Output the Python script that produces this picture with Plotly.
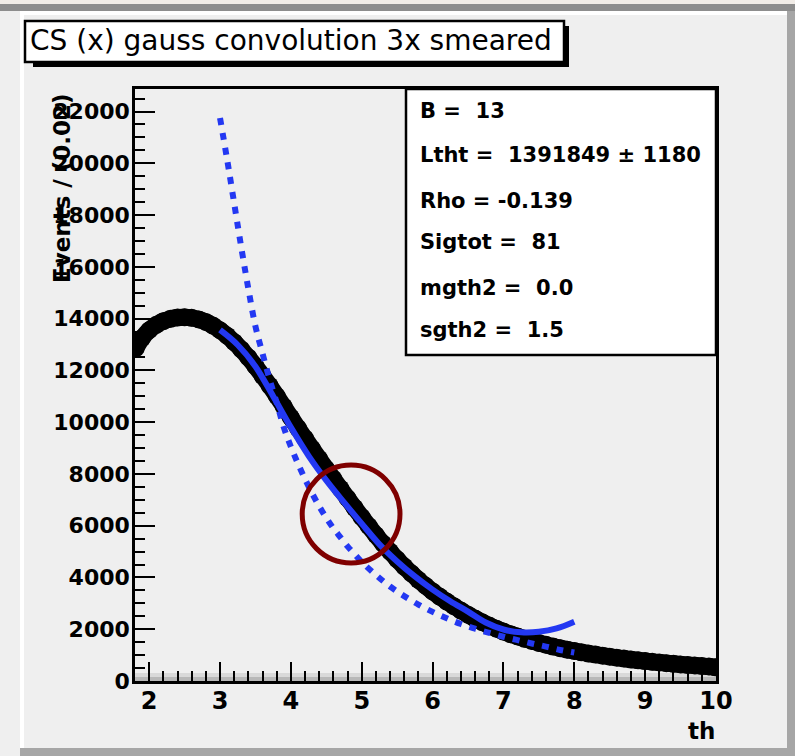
import plotly.graph_objects as go

# ---------------- data ----------------
th_x = [1.81, 1.9, 2.0, 2.1, 2.2, 2.3, 2.4, 2.5, 2.6, 2.7, 2.8, 2.9,
        3.0, 3.1, 3.2, 3.3, 3.4, 3.5, 3.6, 3.7, 3.8, 3.9,
        4.0, 4.1, 4.2, 4.3, 4.4, 4.5, 4.6, 4.7, 4.8, 4.9,
        5.0, 5.1, 5.2, 5.3, 5.4, 5.5, 5.6, 5.7, 5.8, 5.9,
        6.0, 6.1, 6.2, 6.3, 6.4, 6.5, 6.6, 6.7, 6.8, 6.9,
        7.0, 7.1, 7.2, 7.3, 7.4, 7.5, 7.6, 7.7, 7.8, 7.9,
        8.0, 8.1, 8.2, 8.3, 8.4, 8.5, 8.6, 8.7, 8.8, 8.9,
        9.0, 9.1, 9.2, 9.3, 9.4, 9.5, 9.6, 9.7, 9.8, 9.9, 9.99]
events = [12850, 13250, 13550, 13760, 13900, 13990, 14040, 14050, 14030, 13970, 13870, 13730,
          13550, 13340, 13090, 12810, 12500, 12160, 11790, 11410, 11010, 10600,
          10180, 9770, 9370, 8970, 8580, 8190, 7810, 7430, 7060, 6690,
          6330, 5980, 5640, 5310, 5000, 4700, 4420, 4160, 3910, 3680,
          3460, 3260, 3070, 2890, 2720, 2560, 2410, 2270, 2140, 2020,
          1910, 1810, 1720, 1630, 1550, 1470, 1400, 1330, 1270, 1210,
          1160, 1110, 1060, 1020, 980, 940, 900, 865, 830, 800,
          770, 740, 715, 690, 665, 640, 620, 600, 580, 560, 530]

fit_x = [3.0, 3.25, 3.5, 3.75, 4.0, 4.25, 4.5, 4.75, 5.0, 5.25, 5.5,
         5.75, 6.0, 6.25, 6.5, 6.75, 7.0, 7.25, 7.5, 7.75, 8.0]
fit_y = [13560, 12980, 12150, 11000, 9800, 8700, 7750, 6900, 6080, 5280, 4620,
         4040, 3530, 3080, 2680, 2260, 1990, 1880, 1900, 2030, 2290]

smear_x = [3.0, 3.1, 3.2, 3.3, 3.4, 3.5, 3.6, 3.7, 3.8, 3.9, 4.0, 4.1, 4.2, 4.3,
           4.4, 4.5, 4.6, 4.7, 4.8, 4.9, 5.0, 5.2, 5.4, 5.6, 5.8, 6.0, 6.2,
           6.4, 6.6, 6.8, 7.0, 7.2, 7.4, 7.6, 7.8, 8.0]
smear_y = [21750, 20150, 18450, 16750, 15150, 13700, 12650, 11650, 10750, 9800,
           9050, 8400, 7800, 7250, 6750, 6300, 5900, 5550, 5200, 4900, 4600,
           4100, 3650, 3280, 2950, 2670, 2420, 2200, 2020, 1860, 1710, 1580,
           1450, 1330, 1200, 1100]

x_ticks = [2, 3, 4, 5, 6, 7, 8, 9, 10]
y_ticks = [0, 2000, 4000, 6000, 8000, 10000, 12000, 14000, 16000, 18000, 20000, 22000]

title_text = "CS (x) gauss convolution 3x smeared"
stats_lines = ["B =\u00a0 13",
               "Ltht =\u00a0 1391849 ± 1180",
               "Rho = -0.139",
               "Sigtot =\u00a0 81",
               "mgth2 =\u00a0 0.0",
               "sgth2 =\u00a0 1.5"]

circle_center = (4.85, 6450)
circle_radius = (0.69, 1890)

# ---------------- layout geometry ----------------
W, H = 795, 756
L, R, T, B = 135, 79, 89, 75
PW = W - L - R
PH = H - T - B
X_RANGE = [1.8, 10.0]
Y_RANGE = [0, 22870]


def fx(px):
    return (px - L) / PW


def fy(py):
    return (H - B - py) / PH


BG = "#efefef"
FONT = "DejaVu Sans"
BLUE = "#2338f2"

fig = go.Figure()

# data band: markers joined by a thick line of the same points
fig.add_trace(go.Scatter(x=th_x, y=events, mode="lines",
                         line=dict(color="black", width=17, shape="spline"),
                         showlegend=False, hoverinfo="skip"))
fig.add_trace(go.Scatter(x=th_x, y=events, mode="markers",
                         marker=dict(color="black", size=18, line=dict(width=0)),
                         showlegend=False, hoverinfo="skip"))
fig.add_trace(go.Scatter(x=fit_x, y=fit_y, mode="lines",
                         line=dict(color=BLUE, width=6, shape="spline"),
                         showlegend=False, hoverinfo="skip"))
fig.add_trace(go.Scatter(x=smear_x, y=smear_y, mode="lines",
                         line=dict(color=BLUE, width=6, shape="spline", dash="7px,8px"),
                         showlegend=False, hoverinfo="skip"))

shapes = []


def prect(x0, y0, x1, y1, fill, line_color=None, lw=0, layer="above"):
    shapes.append(dict(type="rect", xref="paper", yref="paper",
                       x0=fx(x0), x1=fx(x1), y0=fy(y1), y1=fy(y0),
                       fillcolor=fill, layer=layer,
                       line=dict(color=line_color or fill, width=lw)))


# canvas bevels
prect(0, 0, 795, 4, "#f1ece7")
prect(0, 4, 795, 11, "#8d8d8d")
prect(20, 11, 787, 15, "#ffffff")
prect(20, 11, 24, 748, "#ffffff")
prect(787, 11, 795, 756, "#a6a6a6")
prect(20, 748, 795, 756, "#a6a6a6")

# shading along bottom of the frame
prect(135, 673, 716, 677, "#d9d9d9", layer="below")
prect(135, 677, 716, 681, "#b8b8b8", layer="below")

# title box with shadow
prect(33, 26, 569, 67, "#000000")
prect(25, 21, 564, 62, "#ffffff", "#000000", 2.5)

# stats box
prect(406, 89, 716, 355, "#ffffff", "#000000", 2.5)

# red circle
cx, cy = circle_center
rx, ry = circle_radius
shapes.append(dict(type="circle", xref="x", yref="y",
                   x0=cx - rx, x1=cx + rx, y0=cy - ry, y1=cy + ry,
                   line=dict(color="#7f0000", width=5), layer="above"))

annotations = []
annotations.append(dict(xref="paper", yref="paper", x=fx(28), y=fy(40),
                        xanchor="left", yanchor="middle", showarrow=False,
                        text=title_text,
                        font=dict(family=FONT, size=28, color="black")))

line_y = [111, 155, 201, 242, 288, 330]
for txt, py in zip(stats_lines, line_y):
    annotations.append(dict(xref="paper", yref="paper", x=fx(418), y=fy(py),
                            xanchor="left", yanchor="middle", showarrow=False,
                            text=txt,
                            font=dict(family=FONT, size=21, color="black", weight="bold")))

annotations.append(dict(xref="paper", yref="paper", x=fx(62), y=fy(91),
                        xanchor="center", yanchor="top", showarrow=False,
                        textangle=-90, text="Events / (0.02)",
                        font=dict(family=FONT, size=23, color="black", weight="bold")))
annotations.append(dict(xref="paper", yref="paper", x=fx(717), y=fy(731),
                        xanchor="right", yanchor="middle", showarrow=False,
                        text="th",
                        font=dict(family=FONT, size=23, color="black", weight="bold")))

fig.update_layout(
    width=W, height=H,
    margin=dict(l=L, r=R, t=T, b=B, pad=0),
    paper_bgcolor=BG, plot_bgcolor=BG,
    shapes=shapes, annotations=annotations,
    showlegend=False,
    xaxis=dict(range=X_RANGE, showgrid=False, zeroline=False,
               showline=True, linecolor="black", linewidth=2.5, mirror=True,
               ticks="inside", ticklen=19, tickwidth=2, tickcolor="black",
               tickvals=x_ticks, ticktext=[str(v) for v in x_ticks],
               tickfont=dict(family=FONT, size=24, color="black", weight="bold"),
               minor=dict(ticks="inside", ticklen=10, tickwidth=2, tickcolor="black", dtick=0.2, tick0=2),
               ticklabelstandoff=-4),
    yaxis=dict(range=Y_RANGE, showgrid=False, zeroline=False,
               showline=True, linecolor="black", linewidth=2.5, mirror=True,
               ticks="inside", ticklen=20, tickwidth=2, tickcolor="black",
               tickvals=y_ticks, ticktext=[str(v) for v in y_ticks],
               tickfont=dict(family=FONT, size=22, color="black", weight="bold"),
               minor=dict(ticks="inside", ticklen=10, tickwidth=2, tickcolor="black", dtick=500, tick0=0),
               ticklabelstandoff=-2),
)

fig.write_html("out.html")
